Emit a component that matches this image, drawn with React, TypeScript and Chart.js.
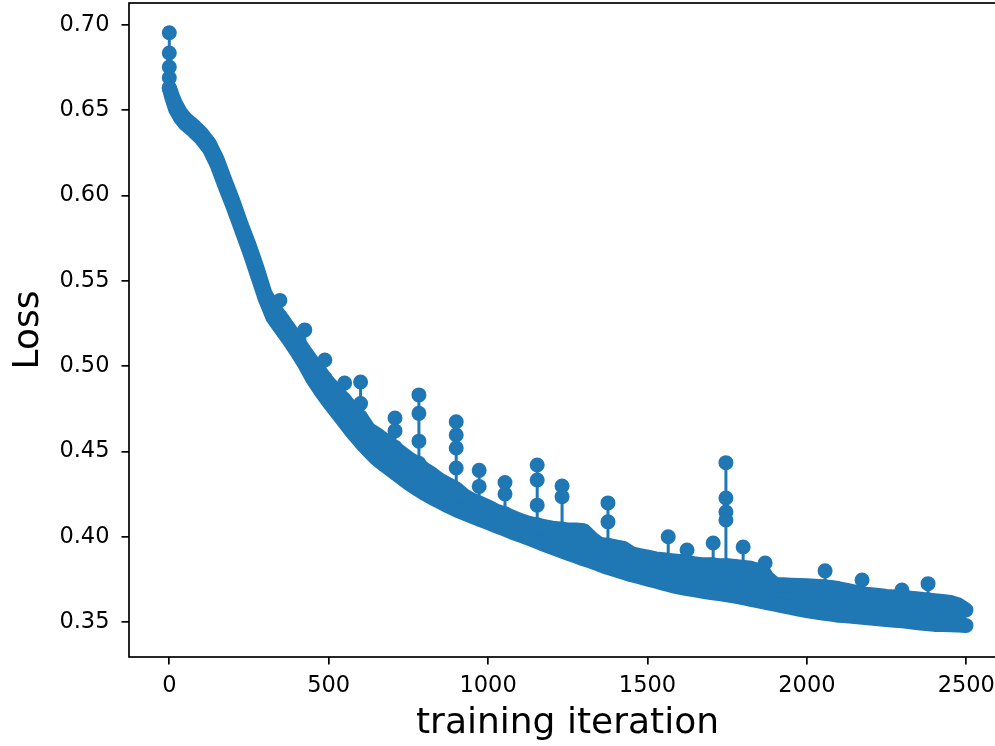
import { useEffect, useRef } from 'react';
import { Chart, registerables } from 'chart.js';

Chart.register(...registerables);

// Iterations at which the band (lower / upper envelope of the loss curve) is sampled
const bandIters = [
  0, 5, 10, 20, 35, 50, 75, 100, 125, 150, 175, 200, 225, 250, 275, 300,
  325, 350, 375, 400, 425, 450, 475, 500, 525, 550, 575, 600, 625, 650, 675, 700,
  725, 750, 775, 800, 825, 850, 875, 900, 925, 950, 975, 1000, 1025, 1050, 1075, 1100,
  1125, 1150, 1175, 1200, 1225, 1250, 1275, 1300, 1325, 1350, 1375, 1400, 1425, 1450, 1475, 1500,
  1525, 1550, 1575, 1600, 1625, 1650, 1675, 1700, 1725, 1750, 1775, 1800, 1825, 1850, 1875, 1900,
  1925, 1950, 1975, 2000, 2025, 2050, 2075, 2100, 2125, 2150, 2175, 2200, 2225, 2250, 2275, 2300,
  2325, 2350, 2375, 2400, 2425, 2450, 2475, 2499,
];

// Lower envelope of the loss
const lossLow = [
  0.663, 0.6593, 0.6562, 0.6505, 0.6455, 0.642, 0.638, 0.6335, 0.6275, 0.618, 0.6055, 0.5935, 0.5808, 0.568, 0.554, 0.540,
  0.5285, 0.522, 0.5155, 0.5085, 0.501, 0.4925, 0.4855, 0.479, 0.473, 0.467, 0.461, 0.4555, 0.4505, 0.4457, 0.442, 0.4385,
  0.435, 0.4315, 0.4283, 0.4255, 0.4228, 0.4204, 0.418, 0.4158, 0.4138, 0.4119, 0.4101, 0.4083, 0.4064, 0.4046, 0.4027, 0.401,
  0.3993, 0.3975, 0.3956, 0.3938, 0.3921, 0.3904, 0.3887, 0.387, 0.3855, 0.3838, 0.382, 0.3806, 0.3792, 0.3777, 0.3765, 0.3752,
  0.374, 0.3727, 0.3715, 0.3705, 0.3696, 0.3688, 0.368, 0.3673, 0.3667, 0.366, 0.3652, 0.3643, 0.3633, 0.3623, 0.3614, 0.3604,
  0.3595, 0.3585, 0.3575, 0.3567, 0.356, 0.3552, 0.3546, 0.354, 0.3536, 0.3532, 0.3528, 0.3524, 0.3519, 0.3514, 0.3511, 0.3507,
  0.3502, 0.3496, 0.3491, 0.3486, 0.3485, 0.3484, 0.3482, 0.348,
];

// Upper envelope of the loss (dense part, without the tall spikes)
const lossHigh = [
  0.663, 0.6607, 0.6578, 0.6535, 0.6485, 0.645, 0.641, 0.6365, 0.6305, 0.621, 0.6085, 0.5965, 0.5832, 0.571, 0.5575, 0.5425,
  0.5345, 0.5285, 0.522, 0.5155, 0.5085, 0.502, 0.496, 0.49, 0.485, 0.48, 0.4745, 0.47, 0.463, 0.46, 0.4565, 0.453,
  0.4495, 0.446, 0.443, 0.4395, 0.4365, 0.433, 0.4305, 0.428, 0.424, 0.4215, 0.4195, 0.4175, 0.415, 0.4135, 0.4115, 0.4095,
  0.408, 0.407, 0.406, 0.405, 0.4045, 0.404, 0.404, 0.4035, 0.399, 0.3955, 0.395, 0.394, 0.3932, 0.39, 0.389, 0.388,
  0.387, 0.3865, 0.386, 0.3855, 0.385, 0.384, 0.3835, 0.3835, 0.383, 0.383, 0.3825, 0.382, 0.3815, 0.38, 0.376, 0.372,
  0.3718, 0.3716, 0.3714, 0.3712, 0.371, 0.3707, 0.3703, 0.3695, 0.3685, 0.3675, 0.3665, 0.366, 0.3655, 0.365, 0.3647, 0.3644,
  0.364, 0.3635, 0.363, 0.3625, 0.362, 0.3615, 0.36, 0.357,
];

// Isolated high points (spikes) above the band: iteration and stacked loss values
const spikeIters = [0, 347, 425, 488, 550, 600, 708, 783, 900, 972, 1053, 1154, 1232, 1376, 1565, 1624, 1706, 1746, 1800, 1869, 2057, 2173, 2298, 2380];
const spikeLosses = [
  [0.6954, 0.6835, 0.6753, 0.669, 0.663],
  [0.5385, 0.529],
  [0.5212, 0.508],
  [0.5036, 0.493],
  [0.4901, 0.48],
  [0.4907, 0.478, 0.47],
  [0.4696, 0.462, 0.4525],
  [0.4831, 0.4723, 0.456, 0.443],
  [0.4674, 0.4596, 0.452, 0.4403, 0.428],
  [0.4389, 0.4295, 0.4195],
  [0.4318, 0.425, 0.4135],
  [0.442, 0.4332, 0.4185, 0.407],
  [0.4297, 0.4234, 0.4045],
  [0.4198, 0.4087, 0.395],
  [0.4, 0.3862],
  [0.3922, 0.385],
  [0.3963, 0.3835],
  [0.4434, 0.4227, 0.4145, 0.4098, 0.383],
  [0.394, 0.382],
  [0.3846, 0.378],
  [0.38, 0.3707],
  [0.3746, 0.3665],
  [0.3688, 0.3644],
  [0.3725, 0.363],
];

const xTickValues = [0, 500, 1000, 1500, 2000, 2500];
const yTickValues = [0.35, 0.4, 0.45, 0.5, 0.55, 0.6, 0.65, 0.7];
const xLabel = 'training iteration';
const yLabel = 'Loss';

export default function App() {
  const ref = useRef<HTMLCanvasElement>(null);

  useEffect(() => {
    const canvas = ref.current;
    if (!canvas) return;
    const blue = '#1f77b4';
    const family = '"DejaVu Sans", sans-serif';

    const lowData = bandIters.map((x, i) => ({ x, y: lossLow[i] }));
    const highData = bandIters.map((x, i) => ({ x, y: lossHigh[i] }));
    const spikeData: any[] = [];
    spikeIters.forEach((x, i) => {
      spikeLosses[i].forEach((y) => spikeData.push({ x, y }));
      spikeData.push({ x, y: null });
    });

    const frame = {
      id: 'frame',
      afterDraw(chart: any) {
        const { ctx, chartArea: a } = chart;
        ctx.save();
        ctx.strokeStyle = '#000';
        ctx.lineWidth = 1.7;
        ctx.strokeRect(a.left, a.top, a.right - a.left, a.bottom - a.top);
        ctx.restore();
      },
    };

    const tickGrid = {
      display: true,
      drawOnChartArea: false,
      drawTicks: true,
      tickLength: 7.5,
      color: '#000',
      lineWidth: 1.7,
    };

    const chart = new Chart(canvas, {
      type: 'line',
      data: {
        datasets: [
          {
            data: lowData,
            borderColor: blue,
            backgroundColor: blue,
            borderWidth: 15,
            borderCapStyle: 'round',
            borderJoinStyle: 'round',
            pointRadius: 0,
            fill: false,
            tension: 0,
          },
          {
            data: highData,
            borderColor: blue,
            backgroundColor: blue,
            borderWidth: 15,
            borderCapStyle: 'round',
            borderJoinStyle: 'round',
            pointRadius: 0,
            fill: '-1',
            tension: 0,
          },
          {
            data: spikeData,
            borderColor: blue,
            backgroundColor: blue,
            borderWidth: 3,
            pointRadius: 6.5,
            pointBorderWidth: 2,
            pointBackgroundColor: blue,
            pointBorderColor: blue,
            spanGaps: false,
            fill: false,
            tension: 0,
          },
        ],
      } as any,
      options: {
        responsive: false,
        animation: false,
        devicePixelRatio: 1,
        events: [],
        layout: { autoPadding: false, padding: { left: 0, right: 4, top: 3, bottom: 0 } },
        plugins: { legend: { display: false }, tooltip: { enabled: false } },
        scales: {
          x: {
            type: 'linear',
            min: -126.4,
            max: 2624.5,
            afterFit: (s: any) => {
              s.height = 89;
              s.paddingLeft = 0;
              s.paddingRight = 0;
              s.paddingTop = 0;
              s.paddingBottom = 0;
            },
            afterBuildTicks: (s: any) => { s.ticks = xTickValues.map((v) => ({ value: v })); },
            ticks: {
              autoSkip: false,
              maxRotation: 0,
              padding: 8.5,
              color: '#000',
              font: { family, size: 22.5 },
              callback: (v: any) => String(v),
            },
            grid: tickGrid,
            border: { display: false },
            title: {
              display: true,
              text: xLabel,
              color: '#000',
              font: { family, size: 36 },
              padding: { top: 0, bottom: 0.7 },
            },
          },
          y: {
            type: 'linear',
            min: 0.3295,
            max: 0.7128,
            afterFit: (s: any) => {
              s.width = 129;
              s.paddingLeft = 0;
              s.paddingRight = 0;
              s.paddingTop = 0;
              s.paddingBottom = 0;
            },
            afterBuildTicks: (s: any) => { s.ticks = yTickValues.map((v) => ({ value: v })); },
            ticks: {
              autoSkip: false,
              padding: 12,
              color: '#000',
              font: { family, size: 22.5 },
              callback: (v: any) => Number(v).toFixed(2),
            },
            grid: tickGrid,
            border: { display: false },
            title: {
              display: true,
              text: yLabel,
              color: '#000',
              font: { family, size: 36 },
              padding: { top: 7.5, bottom: 0 },
            },
          },
        },
      } as any,
      plugins: [frame],
    });

    return () => chart.destroy();
  }, []);

  return (
    <div style={{ position: 'absolute', left: 0, top: 0, width: 995, height: 746, overflow: 'hidden', background: '#fff' }}>
      <canvas ref={ref} width={1010} height={746} style={{ display: 'block' }} />
    </div>
  );
}
